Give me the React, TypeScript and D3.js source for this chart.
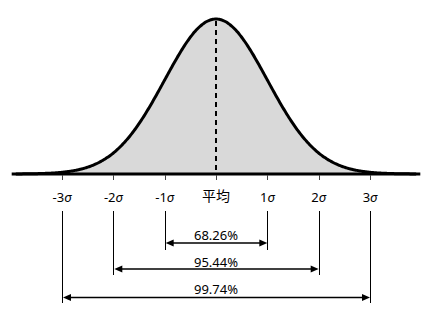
import React from "react";
import * as d3 from "d3";

const sigmaTicks = [-3, -2, -1, 0, 1, 2, 3];
const tickLabels = ["-3", "-2", "-1", "平均", "1", "2", "3"];
const intervalSigma = [1, 2, 3];
const intervalLabels = ["68.26%", "95.44%", "99.74%"];

const W = 440, H = 322;
const axisY = 174;

export default function App() {
  const x = d3.scaleLinear().domain([-3, 3]).range([62, 370]);
  const y = d3.scaleLinear().domain([0, 1]).range([axisY, 19]);
  const pdf = (z: number) => Math.exp(-0.5 * z * z);
  const zs = d3.range(-3.9, 3.9001, 0.02);
  const area = d3.area<number>().x((z) => x(z)).y0(axisY).y1((z) => y(pdf(z)));
  const line = d3.line<number>().x((z) => x(z)).y((z) => y(pdf(z))).curve(d3.curveBasis);

  const lineBottoms = [250, 275, 303];
  const arrowYs = [243, 269, 297.5];
  const labelYs = [240, 267, 294];
  const font = "'Noto Sans', 'Noto Sans CJK JP', sans-serif";

  return (
    <svg width={W} height={H} style={{ position: "absolute", left: 0, top: 0, background: "#fff" }}>
      <path d={area(zs) || ""} fill="#d9d9d9" />
      <line x1={x(0)} x2={x(0)} y1={y(1) + 2} y2={axisY} stroke="#000" strokeWidth={2} strokeDasharray="5,4" />
      <line x1={x(-3.98)} x2={x(3.98)} y1={axisY} y2={axisY} stroke="#000" strokeWidth={3} />
      <path d={line(zs) || ""} fill="none" stroke="#000" strokeWidth={3} />
      {sigmaTicks.map((s, i) => (
        <g key={i}>
          <line x1={Math.round(x(s)) + 0.5} x2={Math.round(x(s)) + 0.5} y1={axisY + 1} y2={axisY + 6} stroke="#444" strokeWidth={1} />
          <text x={x(s)} y={s === 0 ? 201 : 201.5} textAnchor="middle" fontFamily={font} fontSize={s === 0 ? 14 : 13} fill="#000">
            {tickLabels[i]}
            {s !== 0 && <tspan fontStyle="italic">σ</tspan>}
          </text>
        </g>
      ))}
      {intervalSigma.map((k, i) => {
        const xl = x(-k), xr = x(k), ay = arrowYs[i];
        return (
          <g key={k}>
            <line x1={Math.round(xl) + 0.5} x2={Math.round(xl) + 0.5} y1={211} y2={lineBottoms[i]} stroke="#000" strokeWidth={1} />
            <line x1={Math.round(xr) + 0.5} x2={Math.round(xr) + 0.5} y1={211} y2={lineBottoms[i]} stroke="#000" strokeWidth={1} />
            <line x1={xl + 4} x2={xr - 4} y1={ay} y2={ay} stroke="#000" strokeWidth={1.5} />
            <polygon points={`${xl + 1},${ay} ${xl + 9},${ay - 3.5} ${xl + 9},${ay + 3.5}`} fill="#000" />
            <polygon points={`${xr},${ay} ${xr - 8},${ay - 3.5} ${xr - 8},${ay + 3.5}`} fill="#000" />
            <text x={(xl + xr) / 2} y={labelYs[i]} textAnchor="middle" fontFamily={font} fontSize={13} fill="#000">
              {intervalLabels[i]}
            </text>
          </g>
        );
      })}
    </svg>
  );
}
